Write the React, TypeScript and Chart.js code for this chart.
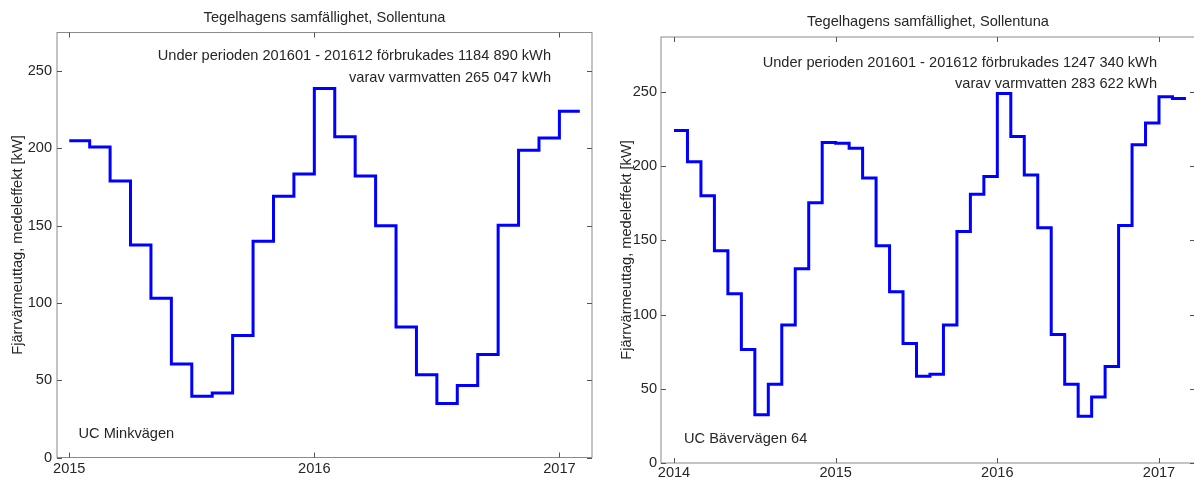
import React, { useEffect, useRef } from 'react';
import { Chart, registerables } from 'chart.js';

Chart.register(...registerables);

// ---------- data ----------
const TITLE = 'Tegelhagens samfällighet, Sollentuna';
const Y_TITLE = 'Fjärrvärmeuttag, medeleffekt [kW]';
const Y_TICKS = [0, 50, 100, 150, 200, 250];

// Left panel: monthly mean power, Jan 2015 .. Jan 2017
const LEFT_START_YEAR = 2015;
const LEFT_VALUES = [
  205, 201, 179, 137.5, 103, 60.5, 39.7, 41.8, 79, 140, 169, 183.4,
  238.7, 207.6, 182.2, 150, 84.5, 53.6, 35, 46.6, 66.6, 150.3, 198.8, 206.8,
  224,
];
const LEFT_X_TICKS = [2015, 2016, 2017];
const LEFT_INFO = [
  'Under perioden 201601 - 201612 förbrukades 1184 890 kWh',
  'varav varmvatten 265 047 kWh',
];
const LEFT_SITE = 'UC Minkvägen';

// Right panel: monthly mean power, Jan 2014 .. Feb 2017
const RIGHT_START_YEAR = 2014;
const RIGHT_VALUES = [
  224, 203, 180, 143, 114, 76.5, 32.5, 53, 93, 130.8, 175.3, 216,
  215.5, 212, 192, 146.3, 115.3, 80.5, 58.5, 59.8, 93, 156, 181, 193,
  249, 220, 194, 158.5, 86.5, 53, 31.5, 44.5, 65, 160, 214.5, 229,
  246.8, 245.5,
];
const RIGHT_X_TICKS = [2014, 2015, 2016, 2017];
const RIGHT_INFO = [
  'Under perioden 201601 - 201612 förbrukades 1247 340 kWh',
  'varav varmvatten 283 622 kWh',
];
const RIGHT_SITE = 'UC Bävervägen 64';

// ---------- styling ----------
const FONT = 'Liberation Sans, Arial, Helvetica, sans-serif';
const FONT_SIZE = 14.6;
const TEXT_COLOR = '#262626';
const FRAME_COLOR = '#8a8a8a';
const TICK_COLOR = '#555555';
const LINE_COLOR = '#0000ff';

type PanelCfg = {
  startYear: number;
  values: number[];
  xTicks: number[];
  info: string[];
  site: string;
  xMin: number;
  xMax: number;
  yMax: number;
  canvasLeft: number;
  canvasWidth: number;
  padRight: number;
  yAxisWidth: number;
  xAxisHeight: number;
  titlePadTop: number;
  titlePadBottom: number;
  yTitlePad: number;
  yTickPad: number;
  xTickPad: number;
  infoRight: number;
  info1: number;
  info2: number;
  siteX: number;
  siteY: number;
};

const LEFT_CFG: PanelCfg = {
  startYear: LEFT_START_YEAR,
  values: LEFT_VALUES,
  xTicks: LEFT_X_TICKS,
  info: LEFT_INFO,
  site: LEFT_SITE,
  xMin: 2014.95,
  xMax: 2017.133,
  yMax: 275,
  canvasLeft: 0,
  canvasWidth: 597,
  padRight: 5,
  yAxisWidth: 57,
  xAxisHeight: 20.5,
  titlePadTop: 9,
  titlePadBottom: 6,
  yTitlePad: 8.8,
  yTickPad: 5,
  xTickPad: 3,
  infoRight: 41,
  info1: 27.5,
  info2: 49,
  siteX: 21.5,
  siteY: 19.5,
};

const RIGHT_CFG: PanelCfg = {
  startYear: RIGHT_START_YEAR,
  values: RIGHT_VALUES,
  xTicks: RIGHT_X_TICKS,
  info: RIGHT_INFO,
  site: RIGHT_SITE,
  xMin: 2013.9196,
  xMax: 2017.2227,
  yMax: 287,
  canvasLeft: 597,
  canvasWidth: 600,
  padRight: 2,
  yAxisWidth: 64,
  xAxisHeight: 15,
  titlePadTop: 13,
  titlePadBottom: 6.5,
  yTitlePad: 21.3,
  yTickPad: 4,
  xTickPad: 1,
  infoRight: 38,
  info1: 29.5,
  info2: 50.5,
  siteX: 23,
  siteY: 20,
};

function stepPoints(startYear: number, values: number[]) {
  const pts = values.map((v, i) => ({ x: startYear + i / 12, y: v }));
  pts.push({ x: startYear + values.length / 12, y: values[values.length - 1] });
  return pts;
}

function makeFramePlugin(cfg: PanelCfg) {
  return {
    id: 'matlabFrame',
    beforeDatasetsDraw(chart: any) {
      const { ctx, chartArea: a, scales } = chart;
      const x = scales.x;
      const y = scales.y;
      ctx.save();
      ctx.lineWidth = 1;
      ctx.strokeStyle = FRAME_COLOR;
      ctx.strokeRect(a.left, a.top, a.right - a.left, a.bottom - a.top);
      ctx.strokeStyle = TICK_COLOR;
      ctx.beginPath();
      cfg.xTicks.forEach((v) => {
        const px = Math.round(x.getPixelForValue(v)) + 0.5;
        ctx.moveTo(px, a.bottom);
        ctx.lineTo(px, a.bottom - 5);
        ctx.moveTo(px, a.top);
        ctx.lineTo(px, a.top + 5);
      });
      Y_TICKS.forEach((v) => {
        const py = Math.round(y.getPixelForValue(v)) + 0.5;
        ctx.moveTo(a.left, py);
        ctx.lineTo(a.left + 5, py);
        ctx.moveTo(a.right, py);
        ctx.lineTo(a.right - 5, py);
      });
      ctx.stroke();
      ctx.restore();
    },
    afterDraw(chart: any) {
      const { ctx, chartArea: a } = chart;
      ctx.save();
      ctx.fillStyle = TEXT_COLOR;
      ctx.font = `${FONT_SIZE}px ${FONT}`;
      ctx.textBaseline = 'alphabetic';
      ctx.textAlign = 'right';
      ctx.fillText(cfg.info[0], a.right - cfg.infoRight, a.top + cfg.info1);
      ctx.fillText(cfg.info[1], a.right - cfg.infoRight, a.top + cfg.info2);
      ctx.textAlign = 'left';
      ctx.fillText(cfg.site, a.left + cfg.siteX, a.bottom - cfg.siteY);
      ctx.restore();
    },
  };
}

function Panel({ cfg }: { cfg: PanelCfg }) {
  const ref = useRef<HTMLCanvasElement>(null);
  useEffect(() => {
    const canvas = ref.current;
    if (!canvas) return;
    const font = { family: FONT, size: FONT_SIZE, weight: 'normal' as const };
    const chart = new Chart(canvas, {
      type: 'line',
      data: {
        datasets: [
          {
            data: stepPoints(cfg.startYear, cfg.values),
            borderColor: LINE_COLOR,
            backgroundColor: LINE_COLOR,
            borderWidth: 3,
            pointRadius: 0,
            stepped: 'before',
            fill: false,
          },
        ],
      },
      options: {
        animation: false,
        responsive: false,
        devicePixelRatio: 1,
        layout: { padding: { left: 0, right: cfg.padRight, top: 0, bottom: 0 } },
        plugins: {
          legend: { display: false },
          tooltip: { enabled: false },
          title: {
            display: true,
            fullSize: false,
            text: TITLE,
            color: TEXT_COLOR,
            font,
            padding: { top: cfg.titlePadTop, bottom: cfg.titlePadBottom },
          },
        },
        scales: {
          x: {
            type: 'linear',
            min: cfg.xMin,
            max: cfg.xMax,
            grid: { display: false, drawTicks: false, tickLength: 0 },
            border: { display: false },
            afterBuildTicks: (s: any) => {
              s.ticks = cfg.xTicks.map((v) => ({ value: v }));
            },
            afterFit: (s: any) => {
              s.height = cfg.xAxisHeight;
            },
            ticks: {
              color: TEXT_COLOR,
              font,
              padding: cfg.xTickPad,
              maxRotation: 0,
              autoSkip: false,
              callback: (v: any) => String(v),
            },
          },
          y: {
            type: 'linear',
            min: 0,
            max: cfg.yMax,
            grid: { display: false, drawTicks: false, tickLength: 0 },
            border: { display: false },
            afterBuildTicks: (s: any) => {
              s.ticks = Y_TICKS.map((v) => ({ value: v }));
            },
            afterFit: (s: any) => {
              s.width = cfg.yAxisWidth;
            },
            ticks: {
              color: TEXT_COLOR,
              font,
              padding: cfg.yTickPad,
              autoSkip: false,
              callback: (v: any) => String(v),
            },
            title: {
              display: true,
              text: Y_TITLE,
              color: TEXT_COLOR,
              font,
              padding: { top: cfg.yTitlePad, bottom: 0 },
            },
          },
        },
      },
      plugins: [makeFramePlugin(cfg)],
    } as any);
    return () => chart.destroy();
  }, [cfg]);
  return (
    <canvas
      ref={ref}
      width={cfg.canvasWidth}
      height={478}
      style={{
        position: 'absolute',
        left: cfg.canvasLeft,
        top: 0,
        width: cfg.canvasWidth,
        height: 478,
      }}
    />
  );
}

export default function App() {
  return (
    <div
      style={{
        position: 'fixed',
        left: 0,
        top: 0,
        width: 1194,
        height: 478,
        overflow: 'hidden',
        background: '#ffffff',
      }}
    >
      <Panel cfg={LEFT_CFG} />
      <Panel cfg={RIGHT_CFG} />
    </div>
  );
}
